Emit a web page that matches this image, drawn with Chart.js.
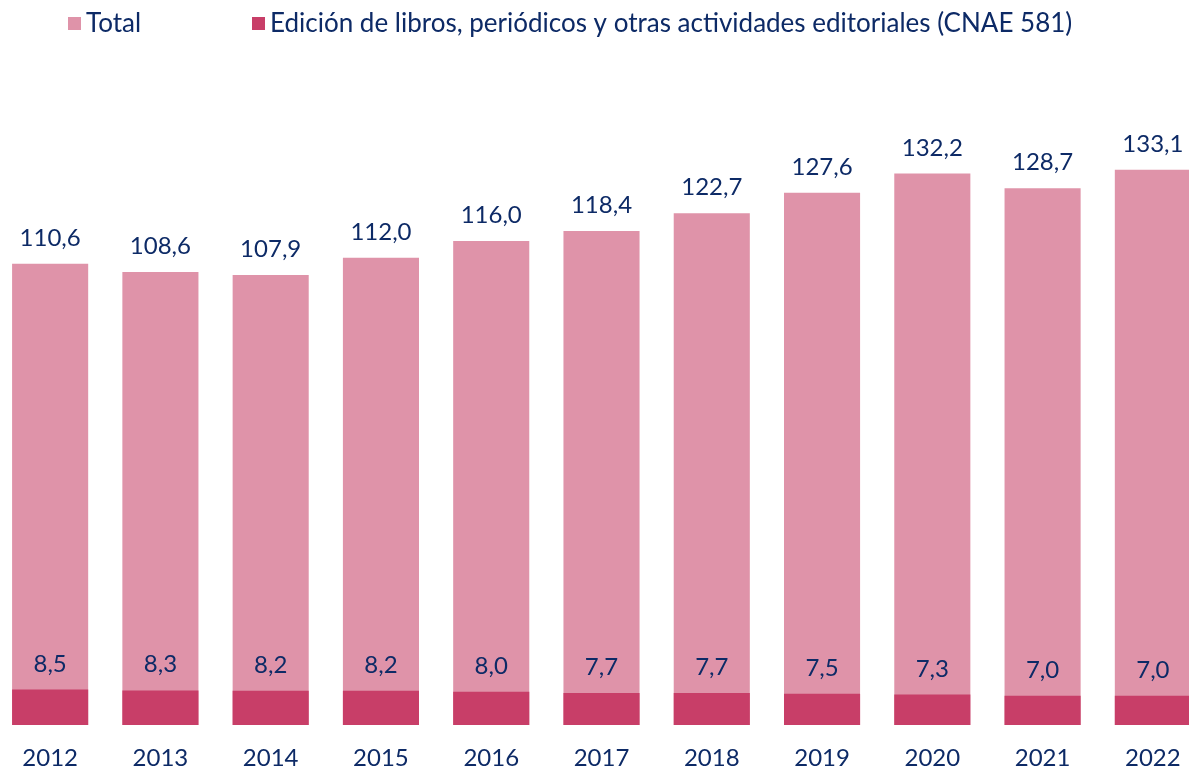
<!DOCTYPE html>
<html>
<head>
<meta charset="utf-8">
<script src="https://cdn.jsdelivr.net/npm/chart.js@4.4.1/dist/chart.umd.min.js"></script>
<style>
	html, body { margin: 0; padding: 0; background: #fff; overflow: hidden; }
	#wrap { position: absolute; left: -5px; top: 0; width: 1213px; height: 770px; }
</style>
</head>
<body>
<div id="wrap"><canvas id="chart"></canvas></div>
<script>
// datos
const years = ['2012','2013','2014','2015','2016','2017','2018','2019','2020','2021','2022']
const total = [110.6,108.6,107.9,112.0,116.0,118.4,122.7,127.6,132.2,128.7,133.1]
const edicion = [8.5,8.3,8.2,8.2,8.0,7.7,7.7,7.5,7.3,7.0,7.0]

const navy = '#0d2a66'
const fontFamily = 'Lato, "Open Sans", sans-serif'

// etiquetas encima de cada barra
const valueLabels = {
	id: 'valueLabels',
	afterDatasetsDraw(chart) {
		const ctx = chart.ctx
		ctx.save()
		ctx.font = '24px ' + fontFamily
		ctx.fillStyle = navy
		ctx.textAlign = 'center'
		ctx.textBaseline = 'alphabetic'
		chart.data.datasets.forEach((ds, i) => {
			chart.getDatasetMeta(i).data.forEach((bar, j) => {
				const txt = ds.data[j].toFixed(1).replace('.', ',')
				ctx.fillText(txt, bar.x, bar.y - 18)
			})
		})
		ctx.restore()
	}
}

// leyenda a mano (Total primero, como en el original)
const legendDraw = {
	id: 'legendDraw',
	afterDraw(chart) {
		const ctx = chart.ctx
		const items = [
			{ ds: chart.data.datasets[1], x: 73 },
			{ ds: chart.data.datasets[0], x: 257 }
		]
		ctx.save()
		ctx.font = '26px ' + fontFamily
		ctx.textBaseline = 'middle'
		ctx.textAlign = 'left'
		items.forEach(it => {
			ctx.fillStyle = it.ds.backgroundColor
			ctx.fillRect(it.x, 17, 13, 13)
			ctx.fillStyle = navy
			ctx.fillText(it.ds.label, it.x + 18, 24)
		})
		ctx.restore()
	}
}

new Chart(document.getElementById('chart'), {
	type: 'bar',
	data: {
		labels: years,
		datasets: [
			{
				label: 'Edición de libros, periódicos y otras actividades editoriales (CNAE 581)',
				data: edicion,
				backgroundColor: '#c83e68',
				order: 0
			},
			{
				label: 'Total',
				data: total,
				backgroundColor: '#df93a9',
				order: 1
			}
		]
	},
	options: {
		responsive: true,
		maintainAspectRatio: false,
		animation: false,
		grouped: false,
		categoryPercentage: 1,
		barPercentage: 0.69,
		layout: { padding: { top: 141, left: 0, right: 0, bottom: 0 } },
		plugins: {
			legend: { display: false },
			tooltip: { enabled: false }
		},
		scales: {
			x: {
				grid: { display: false },
				border: { display: false },
				ticks: {
					color: navy,
					padding: 11,
					font: { family: fontFamily, size: 24 }
				},
				afterFit(scale) { scale.height = 45 }
			},
			y: {
				display: false,
				min: 0,
				max: 140
			}
		}
	},
	plugins: [valueLabels, legendDraw]
})
</script>
</body>
</html>
